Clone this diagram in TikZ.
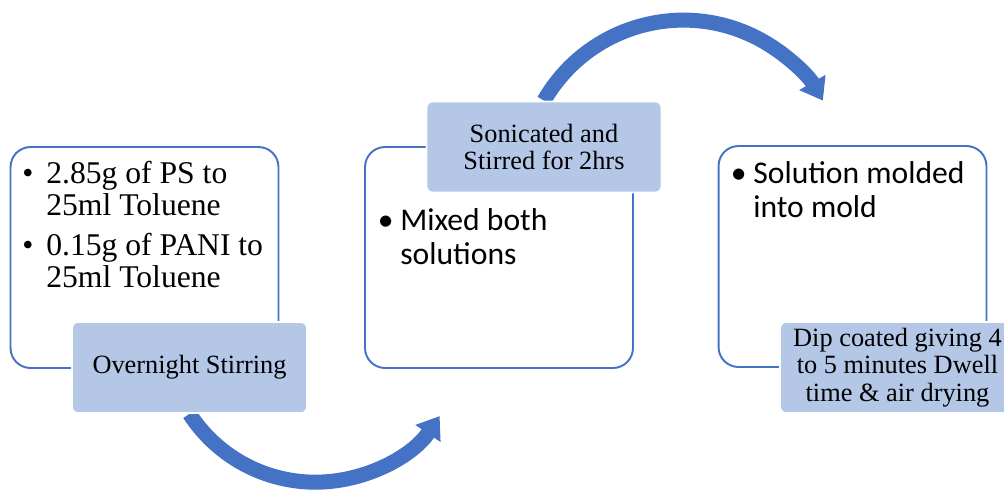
\documentclass[tikz,border=0pt]{standalone}
\usepackage{fontspec}
\setmainfont{Liberation Serif}
\newfontfamily\calib{Carlito}
\usetikzlibrary{arrows.meta,backgrounds}
\definecolor{stageblue}{HTML}{4472C4}
\definecolor{stagelight}{HTML}{B4C7E7}
\tikzset{
  stage/.style={draw=stageblue,line width=1.1pt,rounded corners=0.4cm,fill=white,
    minimum width=5.36cm,minimum height=4.42cm,inner sep=0},
  caption/.style={fill=stagelight,draw=white,line width=1pt,rounded corners=0.12cm,
    minimum width=4.7cm,minimum height=1.82cm,inner sep=0,align=center,
    font=\fontsize{15pt}{15.5pt}\selectfont},
  items/.style={anchor=base west,inner sep=0,font=\fontsize{18pt}{18.2pt}\selectfont},
  sitems/.style={items,font=\calib\fontsize{18pt}{19.8pt}\selectfont},
  curl/.style={stageblue,line width=0.3cm,-{Triangle[width=0.58cm,length=0.42cm]}}
}
\begin{document}
\begin{tikzpicture}[x=0.02cm,y=-0.02cm]
\useasboundingbox (0,0) rectangle (1004,491);
% outlined boxes
\node[stage] (box1) at (144.5,257.5) {};
\node[stage] (box2) at (499,257.5) {};
\node[stage] (box3) at (852.5,256.5) {};
% bullet texts
\node[items] (list1) at (22,183.3) {\begin{tabular}[t]{@{}l@{}}
\makebox[0.48cm][l]{\textbullet}2.85g of PS to\\
\hspace{0.48cm}25ml Toluene\\[0.16cm]
\makebox[0.48cm][l]{\textbullet}0.15g of PANI to\\
\hspace{0.48cm}25ml Toluene
\end{tabular}};
\node[sitems] (list2) at (377.5,230) {\begin{tabular}[t]{@{}l@{}}
\makebox[0.45cm][l]{\textbullet}Mixed both\\
\hspace{0.45cm}solutions
\end{tabular}};
\node[sitems] (list3) at (730.5,183) {\begin{tabular}[t]{@{}l@{}}
\makebox[0.45cm][l]{\textbullet}Solution molded\\
\hspace{0.45cm}into mold
\end{tabular}};
% filled labels
\node[caption] (lab1) at (189.5,367.5) {Overnight Stirring};
\node[caption] (lab2) at (544,147) {Sonicated and\\Stirred for 2hrs};
\node[caption] (lab3) at (897.5,367.5) {Dip coated giving 4\\to 5 minutes Dwell\\time \& air drying};
% curved arrows
\begin{scope}[on background layer]
\draw[curl] (lab1.south) arc[start angle=147,end angle=34,radius=150];
\draw[curl] (lab2.north) arc[start angle=210,end angle=330,radius=161];
\end{scope}
\end{tikzpicture}
\end{document}
